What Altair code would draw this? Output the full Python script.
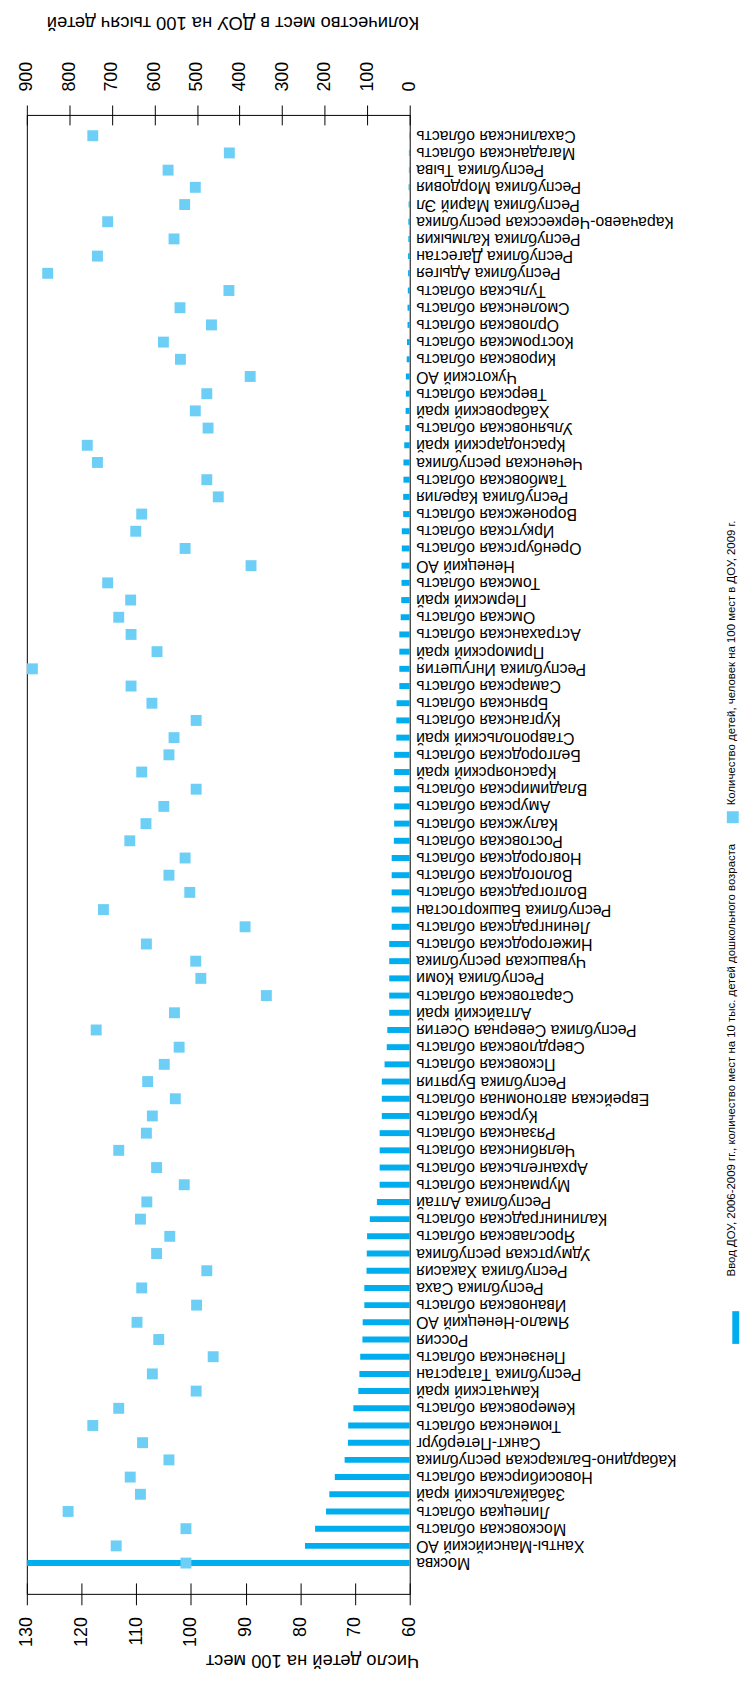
import altair as alt
import pandas as pd

FONT = "Liberation Sans"

# Regions in rank order (largest bar first)
regions = [
    "Москва", "Ханты-Мансийский АО", "Московская область", "Липецкая область",
    "Забайкальский край", "Новосибирская область", "Кабардино-Балкарская республика",
    "Санкт-Петербург", "Тюменская область", "Кемеровская область", "Камчатский край",
    "Республика Татарстан", "Пензенская область", "Россия", "Ямало-Ненецкий АО",
    "Ивановская область", "Республика Саха", "Республика Хакасия", "Удмуртская республика",
    "Ярославская область", "Калининградская область", "Республика Алтай",
    "Мурманская область", "Архангельская область", "Челябинская область",
    "Рязанская область", "Курская область", "Еврейская автономная область",
    "Республика Бурятия", "Псковская область", "Свердловская область",
    "Республика Северная Осетия", "Алтайский край", "Саратовская область",
    "Республика Коми", "Чувашская республика", "Нижегородская область",
    "Ленинградская область", "Республика Башкортостан", "Волгоградская область",
    "Вологодская область", "Новгородская область", "Ростовская область",
    "Калужская область", "Амурская область", "Владимирская область",
    "Красноярский край", "Белгородская область", "Ставропольский край",
    "Курганская область", "Брянская область", "Самарская область",
    "Республика Ингушетия", "Приморский край", "Астраханская область",
    "Омская область", "Пермский край", "Томская область", "Ненецкий АО",
    "Оренбургская область", "Иркутская область", "Воронежская область",
    "Республика Карелия", "Тамбовская область", "Чеченская республика",
    "Краснодарский край", "Ульяновская область", "Хабаровский край",
    "Тверская область", "Чукотский АО", "Кировская область", "Костромская область",
    "Орловская область", "Смоленская область", "Тульская область",
    "Республика Адыгея", "Республика Дагестан", "Республика Калмыкия",
    "Карачаево-Черкесская республика", "Республика Марий Эл", "Республика Мордовия",
    "Республика Тыва", "Магаданская область", "Сахалинская область",
]

# Bars (bottom axis, 60-130)
bar_values = [
    130.0, 79.15, 77.3, 75.3, 74.7, 73.7, 71.9, 71.3, 71.25, 70.3, 69.4,
    69.2, 69.05, 68.65, 68.6, 68.3, 68.3, 67.9, 67.85, 67.8, 67.3, 66.0,
    65.5, 65.5, 65.5, 65.5, 65.1, 65.1, 65.1, 64.6, 64.2, 64.1, 63.75, 63.75,
    63.75, 63.75, 63.75, 63.3, 63.3, 63.3, 63.3, 63.3, 62.9, 62.85, 62.85,
    62.85, 62.85, 62.85, 62.45, 62.45, 62.4, 61.9, 61.9, 61.9, 61.9, 61.65,
    61.55, 61.5, 61.5, 61.45, 61.45, 61.2, 61.2, 61.15, 61.15, 61.0, 60.8,
    60.75, 60.7, 60.7, 60.55, 60.5, 60.4, 60.4, 60.35, 60.3, 60.3, 60.25,
    60.25, 60.2, 60.2, 60.15, 60.15, 60.1,
]

# Squares (top axis, 0-900)
square_values = [
    526, 690, 526, 803, 633, 657, 566, 628, 745, 684, 502,
    605, 462, 590, 641, 501, 630, 477, 595, 564, 633, 618,
    530, 595, 684, 619, 605, 551, 616, 577, 542, 737, 553, 337,
    491, 503, 619, 387, 720, 517, 566, 528, 658, 620, 578,
    502, 630, 566, 554, 502, 606, 655, 887, 594, 655, 684,
    656, 710, 373, 528, 644, 630, 450, 477, 734, 758, 474,
    504, 477, 375, 539, 579, 466, 540, 425, 851, 734, 554,
    710, 529, 504, 568, 424, 745,
]

legend_labels = [
    "Ввод ДОУ, 2006-2009 гг., количество мест на 10 тыс. детей дошкольного возраста",
    "Количество детей, человек на 100 мест в ДОУ, 2009 г.",
]

BAR_COLOR = "#00aeef"
SQ_COLOR = "#6dcff6"

df = pd.DataFrame({"region": regions, "bar": bar_values, "sq": square_values})
order = list(reversed(regions))

y_enc = alt.Y(
    "region:N",
    sort=order,
    scale=alt.Scale(paddingInner=0, paddingOuter=1, align=0.355),
    axis=alt.Axis(
        orient="right", title=None, labelAngle=180, labelAlign="right",
        labelBaseline="middle", labelPadding=6, ticks=False, domain=False,
        labelFont=FONT, labelFontSize=16, labelColor="#000", labelLimit=0,
        labelOverlap=False,
    ),
)

bars = alt.Chart(df).mark_bar(size=6, color=BAR_COLOR).encode(
    x=alt.X(
        "bar:Q",
        scale=alt.Scale(domain=[60, 130], reverse=True, nice=False, zero=False),
        axis=alt.Axis(
            orient="bottom", values=list(range(60, 131, 10)), offset=-11,
            tickSize=22, tickColor="#000", domain=False, grid=False,
            labelAngle=270, labelAlign="right", labelBaseline="middle",
            labelPadding=12, labelFont=FONT, labelFontSize=18, labelColor="#000",
            labelFlush=False, labelOverlap=False,
            title="Число детей на 100 мест", titleAngle=180, titleAlign="left",
            titleBaseline="middle", titleX=395, titleY=78, titleFont=FONT,
            titleFontSize=18.5, titleFontWeight="normal", titleColor="#000",
        ),
    ),
    x2=alt.datum(60),
    y=y_enc,
)

squares = alt.Chart(df).mark_square(size=121, color=SQ_COLOR, opacity=1).encode(
    x=alt.X(
        "sq:Q",
        scale=alt.Scale(domain=[0, 900], reverse=True, nice=False, zero=True),
        axis=alt.Axis(
            orient="top", values=list(range(0, 901, 100)), offset=-10,
            tickSize=20, tickColor="#000", domain=False, grid=False,
            labelAngle=270, labelAlign="left", labelBaseline="middle",
            labelPadding=14, labelFont=FONT, labelFontSize=18, labelColor="#000",
            labelFlush=False, labelOverlap=False,
            title="Количество мест в ДОУ на 100 тысяч детей", titleAngle=180,
            titleAlign="left", titleBaseline="middle", titleX=395, titleY=-103,
            titleFont=FONT, titleFontSize=18.5, titleFontWeight="normal",
            titleColor="#000",
        ),
    ),
    y=alt.Y("region:N", sort=order),
)

one = pd.DataFrame({"k": [0]})
leg_line = alt.Chart(one).mark_rule(color=BAR_COLOR, strokeWidth=7).encode(
    x=alt.value(714.7), y=alt.value(1206), y2=alt.value(1239)
)
leg_text1 = alt.Chart(pd.DataFrame({"t": [legend_labels[0]]})).mark_text(
    angle=270, align="left", baseline="middle", font=FONT, fontSize=11.5, color="#000"
).encode(text="t:N", x=alt.value(711.3), y=alt.value(1171))
leg_sq = alt.Chart(one).mark_square(size=144, color=SQ_COLOR, opacity=1).encode(
    x=alt.value(711.7), y=alt.value(708)
)
leg_text2 = alt.Chart(pd.DataFrame({"t": [legend_labels[1]]})).mark_text(
    angle=270, align="left", baseline="middle", font=FONT, fontSize=11.5, color="#000"
).encode(text="t:N", x=alt.value(711.3), y=alt.value(696))

chart = (
    alt.layer(bars, squares, leg_line, leg_text1, leg_sq, leg_text2)
    .resolve_scale(x="independent")
    .properties(
        width=386, height=1491,
        autosize=alt.AutoSizeParams(type="none"),
        padding={"left": 19, "top": 101, "right": 336, "bottom": 73},
    )
    .configure_view(stroke="#000", strokeWidth=1)
)

chart.save("out.html", embed_options={"renderer": "svg", "actions": False})
